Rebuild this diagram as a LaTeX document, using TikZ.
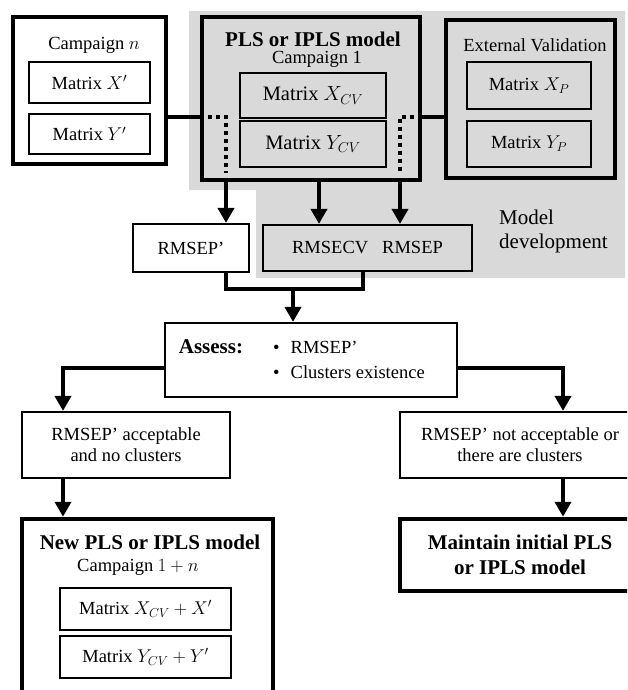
\documentclass[tikz,border=0pt]{standalone}
\usepackage{fix-cm}
\usepackage{fontspec}
\setmainfont{Liberation Serif}
\usetikzlibrary{arrows.meta}
\definecolor{bggray}{RGB}{217,217,217}

\begin{document}
\begin{tikzpicture}[x=1pt,y=-1pt]
  \tikzset{box/.style={draw,line width=2.2pt,inner sep=0pt,fill=white},
    bigbox/.style={box,line width=4.5pt},
    txt/.style={font=\fontsize{18.5}{21}\selectfont,align=center,inner sep=0pt},
    mtxt/.style={font=\fontsize{20.5}{24}\selectfont,align=center,inner sep=0pt},
    btxt/.style={font=\fontsize{21}{25}\selectfont\bfseries,align=center,inner sep=0pt},
    conn/.style={line width=4pt},
    arr/.style={conn,-{Triangle[length=15pt,width=16pt]}},
    dots/.style={line width=3.5pt,dash pattern=on 4.5pt off 3.5pt}}
  \useasboundingbox (0,0) rectangle (627,690);
  \clip (0,0) rectangle (627,690);
  % model development area
  \fill[bggray] (189,11) -- (625,11) -- (625,278) -- (256,278) -- (256,190) -- (189,190) -- cycle;

  \node [bigbox,minimum width=153pt,minimum height=147pt] (campn) at (89.5,90.5) {};
  \node [txt] (campnt) at (94,45) {Campaign $n$};
  \node [box,txt,minimum width=121pt,minimum height=41pt] (mxp) at (89.5,82.5) {Matrix $X'$};
  \node [box,txt,minimum width=121pt,minimum height=40pt] (myp) at (89.5,134) {Matrix $Y'$};

  \node [bigbox,fill=bggray,minimum width=218pt,minimum height=163pt] (pls) at (311,98.5) {};
  \node [btxt] (plst) at (313,39) {PLS or IPLS model};
  \node [txt] (plsc) at (317,59.5) {Campaign 1};
  \node [box,mtxt,fill=bggray,minimum width=146pt,minimum height=45pt] (mxcv) at (313,95.5) {Matrix $X_{CV}$};
  \node [box,mtxt,fill=bggray,minimum width=146pt,minimum height=46pt] (mycv) at (313,144) {Matrix $Y_{CV}$};

  \node [bigbox,fill=bggray,minimum width=169pt,minimum height=158pt] (ext) at (530.5,99) {};
  \node [txt] (extt) at (535,45) {External Validation};
  \node [box,txt,fill=bggray,minimum width=124pt,minimum height=47pt] (mxpp) at (529,85.5) {Matrix $X_P$};
  \node [box,txt,fill=bggray,minimum width=124pt,minimum height=46pt] (mypp) at (529,144) {Matrix $Y_P$};

  \node [box,txt,minimum width=116pt,minimum height=48pt] (rmsepp) at (191,248) {RMSEP’};
  \node [box,txt,fill=bggray,minimum width=209pt,minimum height=46pt] (rmsecv) at (367.5,248) {RMSECV\hspace{14pt}RMSEP};
  \node [mtxt,font=\fontsize{21}{24}\selectfont,align=left,anchor=west] (devt) at (499,231) {Model\\development};

  \node [box,minimum width=292pt,minimum height=74pt] (assess) at (311,360) {};
  \node [btxt] (assesst) at (211,347) {Assess:};
  \node [txt,font=\fontsize{18.5}{25}\selectfont,align=left,anchor=west] (assessl) at (273,359.5)
    {\textbullet\hspace{11pt}RMSEP’\\\textbullet\hspace{11pt}Clusters existence};

  \node [box,txt,minimum width=208pt,minimum height=66pt] (acc) at (126,445) {RMSEP’ acceptable\\and no clusters};
  \node [box,txt,minimum width=240pt,minimum height=66pt] (notacc) at (520,445) {RMSEP’ not acceptable or\\there are clusters};

  \node [bigbox,minimum width=251pt,minimum height=201pt] (newm) at (147.5,619.5) {};
  \node [btxt] (newmt) at (150,542) {New PLS or IPLS model};
  \node [txt] (newmc) at (138,567) {Campaign $1+n$};
  \node [box,txt,minimum width=171pt,minimum height=42pt] (mxn) at (145.5,609) {Matrix $X_{CV}+X'$};
  \node [box,txt,minimum width=171pt,minimum height=42pt] (myn) at (145.5,657) {Matrix $Y_{CV}+Y'$};

  \node [bigbox,btxt,minimum width=240pt,minimum height=72pt] (maint) at (520,555) {Maintain initial PLS\\or IPLS model};

  % links
  \coordinate (dl) at (226,117);
  \coordinate (dr) at (400,117);
  \coordinate (dm) at (319,200);
  \coordinate (mj) at (293,289);
  \coordinate (mr) at (363,289);
  \coordinate (sl) at (63,368);
  \coordinate (sr) at (563,368);
  \draw[conn] (campn.east |- dl) -- (pls.west |- dl);
  \draw[conn] (ext.west |- dr) -- (pls.east |- dr);
  \draw[dots] (pls.west |- dl) -- (dl) -- ([yshift=-5pt]dl |- mycv.south);
  \draw[dots] (pls.east |- dr) -- (dr) -- ([yshift=-5pt]dr |- mycv.south);
  \draw[arr] (dl |- pls.south) -- (dl |- rmsepp.north);
  \draw[arr] (dm |- pls.south) -- (dm |- rmsecv.north);
  \draw[arr] (dr |- pls.south) -- (dr |- rmsecv.north);
  \draw[conn] (dl |- rmsepp.south) |- (mr) -- (mr |- rmsecv.south);
  \draw[arr] (mj) -- (mj |- assess.north);
  \draw[arr] (assess.west |- sl) -| (sl |- acc.north);
  \draw[arr] (assess.east |- sr) -| (sr |- notacc.north);
  \draw[arr] (sl |- acc.south) -- (sl |- newm.north);
  \draw[arr] (sr |- notacc.south) -- (sr |- maint.north);
\end{tikzpicture}
\end{document}
